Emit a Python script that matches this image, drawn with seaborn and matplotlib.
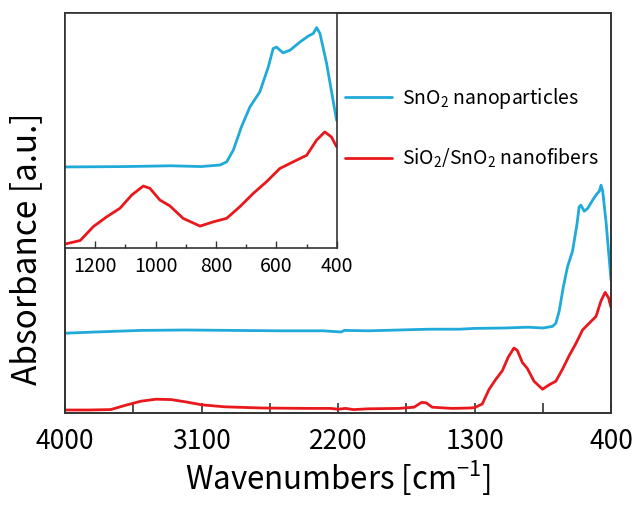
import numpy as np
import pandas as pd
import seaborn as sns
import matplotlib.pyplot as plt
from matplotlib.ticker import FixedLocator

# Spectra (wavenumber in cm-1, absorbance in a.u.)
wn_sno2 = [4000, 3800, 3500, 3200, 2900, 2600, 2300, 2180, 2160, 2000, 1800, 1600,
           1400, 1300, 1100, 950, 850, 787, 765, 743, 716, 688, 655, 627, 611, 600,
           578, 555, 522, 495, 478, 467, 456, 434, 401]
abs_sno2 = [0.200, 0.203, 0.207, 0.208, 0.207, 0.206, 0.206, 0.203, 0.207, 0.206, 0.208, 0.210,
            0.210, 0.212, 0.213, 0.215, 0.213, 0.217, 0.225, 0.255, 0.315, 0.366, 0.405, 0.469, 0.516, 0.520,
            0.505, 0.512, 0.533, 0.548, 0.555, 0.570, 0.555, 0.478, 0.332]

wn_fib = [4000, 3850, 3700, 3600, 3500, 3400, 3300, 3200, 3100, 2950, 2700, 2400, 2250, 2200,
          2150, 2100, 2000, 1800, 1700, 1650, 1620, 1580, 1450, 1330, 1300, 1250, 1206, 1162,
          1118, 1079, 1041, 1019, 986, 953, 909, 853, 809, 765, 721, 677, 633, 589, 545, 500,
          467, 440, 418, 401]
abs_fib = [0.008, 0.008, 0.009, 0.020, 0.030, 0.035, 0.034, 0.028, 0.021, 0.016, 0.013, 0.012, 0.012, 0.010,
           0.012, 0.009, 0.011, 0.012, 0.015, 0.027, 0.026, 0.015, 0.012, 0.013, 0.014, 0.023, 0.059, 0.084,
           0.106, 0.140, 0.163, 0.157, 0.127, 0.112, 0.080, 0.060, 0.071, 0.080, 0.110, 0.144, 0.174, 0.208, 0.225, 0.242,
           0.281, 0.302, 0.289, 0.264]

labels = ['SnO$_2$ nanoparticles', 'SiO$_2$/SnO$_2$ nanofibers']
colors = ['#1faad9', '#e8181c']

main_ticks = [4000, 3100, 2200, 1300, 400]
main_minor = [3550, 2650, 1750, 850]
inset_ticks = [1200, 1000, 800, 600, 400]
inset_minor = [1100, 900, 700, 500]

df = pd.concat([
    pd.DataFrame({'wn': wn_sno2, 'abs': abs_sno2, 'sample': labels[0]}),
    pd.DataFrame({'wn': wn_fib, 'abs': abs_fib, 'sample': labels[1]}),
])

sns.set_style('ticks')
plt.rcParams['font.family'] = ['Noto Sans CJK JP', 'DejaVu Sans']
plt.rcParams['mathtext.fontset'] = 'custom'
plt.rcParams['mathtext.rm'] = 'Noto Sans CJK JP'
plt.rcParams['mathtext.it'] = 'Noto Sans CJK JP'
plt.rcParams['axes.unicode_minus'] = False
plt.rcParams['text.color'] = 'black'
plt.rcParams['axes.labelcolor'] = 'black'
plt.rcParams['xtick.labelcolor'] = 'black'

spine_col = '#333333'
fig = plt.figure(figsize=(6.38, 5.07), dpi=100)
ax = fig.add_axes([0.102, 0.185, 0.856, 0.789])
sns.lineplot(data=df, x='wn', y='abs', hue='sample', palette=colors,
             estimator=None, sort=False, lw=2.0, ax=ax)
ax.set_xlim(4000, 400)
ax.set_ylim(0, 1)
ax.set_yticks([])
ax.xaxis.set_major_locator(FixedLocator(main_ticks))
ax.xaxis.set_minor_locator(FixedLocator(main_minor))
ax.tick_params(axis='x', which='both', direction='in', length=7, width=1.2,
               color=spine_col, labelsize=19, pad=11)
ax.set_xlabel('Wavenumbers [cm$^{-1}$]', fontsize=22.5, labelpad=2)
ax.set_ylabel('Absorbance [a.u.]', fontsize=24)
ax.yaxis.set_label_coords(-0.038, 0.41)
for s in ax.spines.values():
    s.set_color(spine_col)
    s.set_linewidth(1.4)

ax.legend(loc='upper left', bbox_to_anchor=(0.481, 0.862), frameon=False,
          fontsize=14, handlelength=2.4, labelspacing=1.85, handletextpad=0.5)

# inset zoom on the fingerprint region
ins = fig.add_axes([0.102, 0.511, 0.426, 0.463])
sns.lineplot(data=df[df['wn'] <= 1300], x='wn', y='abs', hue='sample', palette=colors,
             estimator=None, sort=False, lw=2.0, ax=ins, legend=False)
ins.set_xlim(1300, 400)
ins.set_ylim(0.004, 0.607)
ins.set_yticks([])
ins.set_xlabel('')
ins.set_ylabel('')
ins.xaxis.set_major_locator(FixedLocator(inset_ticks))
ins.xaxis.set_minor_locator(FixedLocator(inset_minor))
ins.tick_params(axis='x', which='major', direction='in', length=5, width=1.0,
                color=spine_col, labelsize=14, pad=6)
ins.tick_params(axis='x', which='minor', direction='in', length=3, width=1.0, color=spine_col)
for s in ins.spines.values():
    s.set_color(spine_col)
    s.set_linewidth(1.2)

fig.savefig('out.png', dpi=100)
